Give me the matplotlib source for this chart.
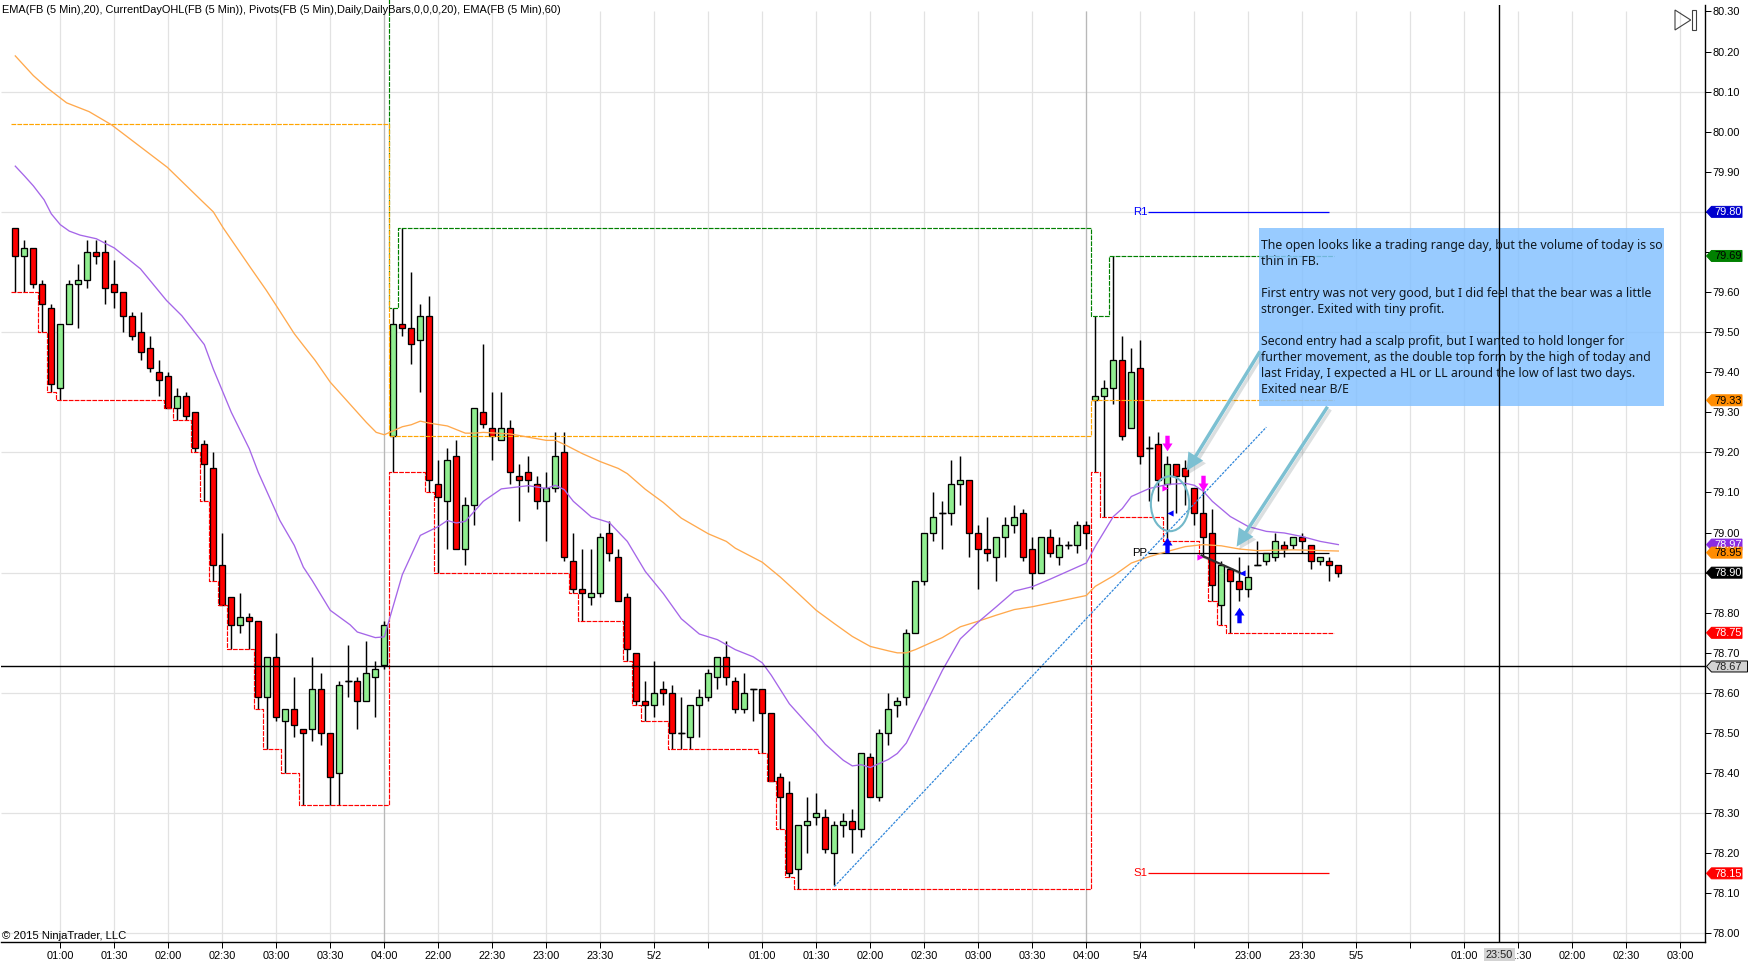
import numpy as np
import matplotlib
matplotlib.use('Agg')
import matplotlib.pyplot as plt
import matplotlib.patheffects as pe
from matplotlib.patches import Ellipse, FancyArrowPatch, Polygon, Rectangle
from matplotlib.transforms import IdentityTransform

W, H = 1752, 969

# FB 5 minute bars (tick size 0.01)
opens = [79.76, 79.69, 79.71, 79.62, 79.56, 79.36, 79.52, 79.62, 79.63, 79.70,
         79.70, 79.62, 79.60, 79.54, 79.50, 79.46, 79.40, 79.39, 79.31, 79.34,
         79.30, 79.22, 79.16, 78.92, 78.84, 78.77, 78.79, 78.78, 78.59, 78.69,
         78.53, 78.56, 78.51, 78.51, 78.61, 78.50, 78.40, 78.63, 78.63, 78.58,
         78.64, 78.67, 79.24, 79.52, 79.51, 79.48, 79.54, 79.12, 79.08, 79.19,
         78.96, 79.07, 79.30, 79.26, 79.23, 79.26, 79.14, 79.15, 79.12, 79.08,
         79.11, 79.20, 78.93, 78.86, 78.84, 78.85, 79.00, 78.94, 78.84, 78.70,
         78.58, 78.57, 78.61, 78.60, 78.50, 78.49, 78.57, 78.59, 78.64, 78.69,
         78.63, 78.56, 78.61, 78.61, 78.55, 78.39, 78.35, 78.16, 78.27, 78.29,
         78.29, 78.20, 78.27, 78.28, 78.26, 78.44, 78.34, 78.50, 78.57, 78.59,
         78.75, 78.88, 79.00, 79.05, 79.05, 79.12, 79.13, 79.00, 78.96, 78.94,
         78.99, 79.02, 79.05, 78.96, 78.90, 78.99, 78.94, 78.97, 78.97, 79.02,
         79.33, 79.34, 79.36, 79.43, 79.26, 79.41, 79.21, 79.22, 79.12, 79.17,
         79.16, 79.11, 79.05, 79.00, 78.82, 78.91, 78.88, 78.86, 78.92, 78.93,
         78.94, 78.97, 78.97, 78.99, 78.97, 78.93, 78.93, 78.92]
highs = [79.76, 79.73, 79.71, 79.63, 79.57, 79.52, 79.63, 79.67, 79.73, 79.73,
         79.73, 79.68, 79.60, 79.55, 79.55, 79.49, 79.43, 79.40, 79.36, 79.35,
         79.30, 79.23, 79.20, 79.00, 78.84, 78.85, 78.80, 78.78, 78.69, 78.75,
         78.56, 78.64, 78.51, 78.69, 78.65, 78.50, 78.63, 78.72, 78.64, 78.73,
         78.68, 78.78, 79.56, 79.76, 79.65, 79.57, 79.59, 79.18, 79.21, 79.23,
         79.09, 79.31, 79.47, 79.35, 79.35, 79.28, 79.17, 79.19, 79.14, 79.15,
         79.25, 79.25, 79.00, 78.96, 78.96, 79.00, 79.03, 78.96, 78.85, 78.70,
         78.63, 78.68, 78.63, 78.62, 78.59, 78.57, 78.61, 78.66, 78.69, 78.73,
         78.64, 78.65, 78.61, 78.61, 78.55, 78.40, 78.38, 78.27, 78.34, 78.35,
         78.31, 78.28, 78.30, 78.31, 78.45, 78.45, 78.51, 78.60, 78.59, 78.76,
         78.88, 79.00, 79.10, 79.08, 79.18, 79.19, 79.13, 79.02, 79.04, 78.99,
         79.04, 79.07, 79.06, 78.99, 78.99, 79.01, 78.99, 78.98, 79.03, 79.03,
         79.54, 79.38, 79.69, 79.49, 79.46, 79.48, 79.24, 79.25, 79.19, 79.17,
         79.18, 79.11, 79.11, 79.06, 78.93, 78.91, 78.94, 78.92, 78.98, 78.95,
         79.00, 78.98, 78.99, 79.00, 78.97, 78.94, 78.94, 78.92]
lows = [79.60, 79.60, 79.61, 79.50, 79.35, 79.33, 79.52, 79.51, 79.61, 79.67,
        79.57, 79.56, 79.50, 79.48, 79.43, 79.40, 79.34, 79.31, 79.28, 79.28,
        79.20, 79.08, 78.88, 78.82, 78.71, 78.75, 78.71, 78.56, 78.46, 78.53,
        78.40, 78.49, 78.32, 78.48, 78.47, 78.32, 78.32, 78.59, 78.51, 78.58,
        78.54, 78.66, 79.15, 79.49, 79.42, 79.35, 79.10, 78.90, 78.96, 78.96,
        78.92, 79.02, 79.26, 79.18, 79.23, 79.12, 79.03, 79.10, 79.06, 78.98,
        79.10, 78.93, 78.85, 78.78, 78.82, 78.84, 78.93, 78.83, 78.68, 78.57,
        78.53, 78.54, 78.57, 78.46, 78.46, 78.46, 78.49, 78.58, 78.61, 78.62,
        78.55, 78.55, 78.53, 78.45, 78.38, 78.26, 78.14, 78.11, 78.20, 78.27,
        78.20, 78.12, 78.24, 78.20, 78.24, 78.34, 78.33, 78.47, 78.54, 78.57,
        78.75, 78.87, 78.98, 78.96, 79.02, 79.07, 78.94, 78.86, 78.93, 78.88,
        78.94, 79.00, 78.93, 78.86, 78.90, 78.94, 78.92, 78.96, 78.95, 78.96,
        79.15, 79.04, 79.32, 79.23, 79.26, 79.17, 79.08, 79.08, 78.98, 79.05,
        79.07, 79.02, 78.94, 78.83, 78.77, 78.75, 78.83, 78.84, 78.92, 78.92,
        78.93, 78.94, 78.96, 78.95, 78.91, 78.92, 78.88, 78.89]
closes = [79.69, 79.71, 79.62, 79.57, 79.37, 79.52, 79.62, 79.63, 79.70, 79.69,
          79.61, 79.60, 79.54, 79.49, 79.45, 79.41, 79.38, 79.31, 79.34, 79.29,
          79.21, 79.17, 78.92, 78.82, 78.77, 78.79, 78.78, 78.59, 78.69, 78.54,
          78.56, 78.52, 78.50, 78.61, 78.50, 78.39, 78.62, 78.63, 78.58, 78.65,
          78.66, 78.77, 79.52, 79.51, 79.47, 79.54, 79.13, 79.09, 79.18, 78.96,
          79.07, 79.31, 79.27, 79.24, 79.26, 79.15, 79.13, 79.13, 79.08, 79.11,
          79.19, 78.94, 78.86, 78.85, 78.85, 78.99, 78.95, 78.83, 78.71, 78.58,
          78.57, 78.60, 78.60, 78.50, 78.50, 78.57, 78.59, 78.65, 78.69, 78.64,
          78.56, 78.60, 78.61, 78.55, 78.38, 78.34, 78.15, 78.27, 78.28, 78.30,
          78.21, 78.27, 78.28, 78.26, 78.45, 78.34, 78.50, 78.56, 78.58, 78.75,
          78.88, 79.00, 79.04, 79.05, 79.12, 79.13, 79.00, 78.96, 78.95, 78.99,
          79.02, 79.04, 78.94, 78.90, 78.99, 78.95, 78.97, 78.97, 79.02, 79.00,
          79.34, 79.36, 79.43, 79.24, 79.40, 79.19, 79.21, 79.13, 79.17, 79.14,
          79.14, 79.05, 78.99, 78.87, 78.92, 78.88, 78.86, 78.89, 78.92, 78.95,
          78.98, 78.96, 78.99, 78.98, 78.93, 78.94, 78.92, 78.90]

# bar at which each session starts, with its open and the high already made
session_starts = [0, 42, 120]
session_opens = [80.02, 79.24, 79.33]
session_prior_highs = [80.45, 0.0, 0.0]

ema20_x = [0, 1, 2, 3.2, 4, 5, 6, 7.2, 9, 11, 13.9, 16.8, 18.5, 21, 22, 24, 26, 27,
           29.4, 31, 32, 33, 35, 37.2, 38, 40, 41, 43, 45, 47, 48, 49, 50, 52, 54,
           57, 59, 60, 61, 62, 64, 66, 68, 70, 72, 74, 76, 78, 80, 82, 83, 84, 86,
           88, 89, 90, 92, 93, 94, 95, 97, 98, 99, 101, 103, 105, 107, 109, 111,
           113, 115, 119, 120, 122, 123, 124, 126, 128, 130, 131, 132, 133, 135,
           137, 139, 141, 143, 145, 147]
ema20_y = [79.914, 79.89, 79.865, 79.83, 79.795, 79.768, 79.752, 79.742, 79.733,
           79.71, 79.658, 79.579, 79.541, 79.469, 79.408, 79.30, 79.209, 79.15,
           79.03, 78.968, 78.914, 78.88, 78.806, 78.77, 78.752, 78.738, 78.74,
           78.895, 78.993, 79.015, 79.03, 79.024, 79.028, 79.078, 79.109, 79.117,
           79.11, 79.118, 79.107, 79.078, 79.039, 79.025, 78.978, 78.903, 78.848,
           78.785, 78.747, 78.733, 78.708, 78.69, 78.675, 78.644, 78.573, 78.523,
           78.499, 78.472, 78.432, 78.418, 78.421, 78.414, 78.434, 78.449, 78.475,
           78.565, 78.656, 78.735, 78.777, 78.815, 78.854, 78.865, 78.884, 78.924,
           78.966, 79.04, 79.06, 79.09, 79.11, 79.12, 79.123, 79.118, 79.103,
           79.078, 79.04, 79.015, 79.003, 78.999, 78.99, 78.978, 78.97]

ema60_x = [0, 2, 3.5, 5.7, 8.2, 10.7, 16.9, 20.7, 22, 23.1, 26.1, 27.9, 29, 31, 32,
           33.3, 35, 37, 39, 40.1, 41, 42, 43, 44, 45, 46, 48, 50, 51, 52, 55, 57,
           59, 60, 61, 63, 65, 67, 68, 70, 72, 74, 77, 79, 80, 83, 85, 87, 89, 91,
           93, 95, 97, 98, 99, 100, 103, 105, 107, 109, 111, 113, 119, 120, 122,
           124, 126, 128, 130, 132, 134, 136, 138, 142, 147]
ema60_y = [80.189, 80.14, 80.11, 80.072, 80.05, 80.017, 79.911, 79.828, 79.80, 79.76,
           79.662, 79.604, 79.566, 79.496, 79.467, 79.43, 79.375, 79.325, 79.275,
           79.25, 79.244, 79.254, 79.264, 79.269, 79.278, 79.273, 79.266, 79.248,
           79.248, 79.25, 79.246, 79.238, 79.23, 79.23, 79.22, 79.197, 79.177, 79.16,
           79.147, 79.108, 79.075, 79.036, 78.997, 78.978, 78.961, 78.926, 78.889,
           78.848, 78.806, 78.773, 78.741, 78.716, 78.705, 78.70, 78.70, 78.708,
           78.738, 78.765, 78.779, 78.794, 78.808, 78.815, 78.843, 78.866, 78.892,
           78.924, 78.94, 78.953, 78.965, 78.97, 78.967, 78.959, 78.955, 78.957,
           78.954]

pivot_names = ['R1', 'PP', 'S1']
pivot_prices = [79.80, 78.95, 78.15]
pivot_colors = ['blue', 'black', 'red']
pivot_span = (125.85, 146.0)

trend_x = [91, 139]
trend_y = [78.117, 79.263]
trade_x = [131.8, 136.1]
trade_y = [78.943, 78.90]

down_arrow_x = [128, 132]
down_arrow_y = [79.223, 79.123]
up_arrow_x = [128, 136]
up_arrow_y = [78.97, 78.795]
right_mark_x = [127.7, 131.6]
right_mark_y = [79.11, 78.94]
left_mark_x = [128.3, 136.3]
left_mark_y = [79.05, 78.90]

cursor_bar = 164.9
cursor_price = 78.666
cursor_time = '23:50'

time_ticks = list(range(5, 186, 6))
time_labels = ['01:00', '01:30', '02:00', '02:30', '03:00', '03:30', '04:00', '22:00',
               '22:30', '23:00', '23:30', '5/2', '', '01:00', '01:30', '02:00', '02:30',
               '03:00', '03:30', '04:00', '5/4', '', '23:00', '23:30', '5/5', '', '01:00',
               '01:30', '02:00', '02:30', '03:00']
session_breaks = [41, 119]

price_ticks = np.round(np.arange(78.0, 80.31, 0.1), 2)
hidden_price_labels = [79.70]  # the 79.69 flag takes its place
grid_prices = [78.0, 78.3, 78.6, 78.9, 79.2, 79.5, 79.8, 80.1]

flag_prices = [79.80, 79.69, 79.33, 78.97, 78.95, 78.90, 78.75, 78.15]
flag_colors = ['mediumblue', 'green', 'darkorange', 'blueviolet', 'darkorange', 'black', 'red', 'red']
flag_text_colors = ['white', 'black', 'black', 'white', 'black', 'white', 'white', 'white']

header = ('EMA(FB (5 Min),20), CurrentDayOHL(FB (5 Min)), '
          'Pivots(FB (5 Min),Daily,DailyBars,0,0,0,20), EMA(FB (5 Min),60)')
note_lines = ['The open looks like a trading range day, but the volume of today is so',
              'thin in FB.',
              '',
              'First entry was not very good, but I did feel that the bear was a little',
              'stronger. Exited with tiny profit.',
              '',
              'Second entry had a scalp profit, but I wanted to hold longer for',
              'further movement, as the double top form by the high of today and',
              'last Friday, I expected a HL or LL around the low of last two days.',
              'Exited near B/E']

PX = 0.72  # one pixel in points at dpi 100
plt.rcParams['font.family'] = ['Liberation Sans', 'DejaVu Sans']
AXIS_FONT = 7.95

fig = plt.figure(figsize=(W / 100, H / 100), dpi=100)
ax = fig.add_axes([1 / W, (H - 942.3) / H, 1704 / W, 937.3 / H])
screen = IdentityTransform()


def bar_lines(values):
    # one flat piece per bar, so the level changes halfway between two bars
    last = len(values) - 1
    xs = np.append(np.arange(last) - 0.5, last - 0.5)
    return xs, np.array(values[:last] + [values[last - 1]])


def draw_session_lines():
    low_line, high_line, open_line = [], [], []
    ends = session_starts[1:] + [len(lows)]
    for start, end, first, prior in zip(session_starts, ends, session_opens, session_prior_highs):
        low_line += list(np.minimum.accumulate(lows[start:end]))
        high_line += list(np.maximum.accumulate([max(h, prior) for h in highs[start:end]]))
        open_line += [first] * (end - start)
    for values, color in ((low_line, 'red'), (high_line, 'green'), (open_line, 'orange')):
        xs, ys = bar_lines(values)
        ax.step(xs, ys, where='post', color=color, lw=0.85, ls=(0, (4, 1)), zorder=3,
                clip_on=(color != 'green'))


def draw_candles():
    bars = np.arange(len(opens))
    o, h, l, c = map(np.array, (opens, highs, lows, closes))
    ax.vlines(bars, l, h, color='black', lw=1.05, zorder=2)
    up = c >= o
    ax.bar(bars, np.abs(c - o), bottom=np.minimum(o, c), width=0.66,
           color=np.where(up, 'lightgreen', 'red'), edgecolor='black', lw=0.95, zorder=2.1)
    flat = o == c
    ax.hlines(o[flat], bars[flat] - 0.36, bars[flat] + 0.36, color='black', lw=1.05, zorder=2.1)


def draw_arrow(start, tip):
    arrow = FancyArrowPatch(start, tip, arrowstyle='simple,tail_width=0.2,head_width=1,head_length=1',
                            mutation_scale=12.5, shrinkA=0, shrinkB=0, lw=0, color='#7CC0D2', zorder=5)
    arrow.set_path_effects([pe.SimplePatchShadow(offset=(2, -2), alpha=0.16), pe.Normal()])
    ax.add_patch(arrow)


def draw_flag(price, face, text_color, right=1742, edge=None):
    y = ax.transData.transform((0, price))[1]
    pts = [(1706.5, y), (1711.5, y + 5.5), (right, y + 5.5), (right, y - 5.5), (1711.5, y - 5.5)]
    ax.add_patch(Polygon(pts, closed=True, facecolor=face, edgecolor=edge or face, lw=0.7,
                         transform=screen, clip_on=False, zorder=10))
    ax.text(1714, y - 0.5, f'{price:.2f}', color=text_color, fontsize=AXIS_FONT, va='center',
            transform=screen, clip_on=False, zorder=11)


# axes mapped so a bar is 9 px and 0.01 is 4 px
ax.set_xlim(-1.589, 187.74)
ax.set_ylim(77.978, 80.316)

ax.hlines(grid_prices, -1.589, 187.74, color='#E2E2E2', lw=0.9, zorder=1)
ax.vlines(time_ticks, 77.978, 80.30, color='#E2E2E2', lw=0.9, zorder=1)
ax.vlines(session_breaks, 77.978, 80.30, color='#B8B8B8', lw=0.9, zorder=1.1)

draw_candles()
draw_session_lines()
ax.plot(ema60_x, ema60_y, color='#FFA94D', lw=0.95, zorder=3.2)
ax.plot(ema20_x, ema20_y, color='#A566E8', lw=0.95, zorder=3.3)

ax.hlines(pivot_prices, *pivot_span, colors=pivot_colors, lw=0.9, zorder=3.1)
for name, price, color in zip(pivot_names, pivot_prices, pivot_colors):
    ax.text(pivot_span[0] - 0.05, price, name, color=color, fontsize=8.2, ha='right', va='center', zorder=6)

ax.plot(trend_x, trend_y, color='#2F86DA', lw=0.9, ls=(0, (2, 1)), zorder=3.4)
ax.plot(trade_x, trade_y, color='#303030', lw=1.5, zorder=4,
        path_effects=[pe.SimpleLineShadow(offset=(1, -1), alpha=0.3), pe.Normal()])

down_shape = [(-0.28, 1), (0.28, 1), (0.28, 0), (0.65, 0), (0, -1), (-0.65, 0), (-0.28, 0)]
up_shape = [(x, -y) for x, y in down_shape]
ax.scatter(down_arrow_x, down_arrow_y, marker=down_shape, s=125, color='#FF00FF', lw=0, zorder=6)
ax.scatter(up_arrow_x, up_arrow_y, marker=up_shape, s=125, color='#0000FF', lw=0, zorder=6)
ax.scatter(right_mark_x, right_mark_y, marker='>', s=20, color='#FF00FF', lw=0, zorder=6)
ax.scatter(left_mark_x, left_mark_y, marker='<', s=20, color='#0000FF', lw=0, zorder=6)

ax.add_patch(Ellipse((128.3, 79.072), 4.26, 0.137, fill=False, edgecolor='#72B8C9', lw=1.5, zorder=5))
draw_arrow((138.3, 79.452), (130.15, 79.154))
draw_arrow((145.8, 79.314), (135.7, 78.965))

# note box, the grid and the levels show through it
ax.add_patch(Rectangle((138.2, 79.316), 45.0, 0.444, facecolor=(0.525, 0.76, 1.0), alpha=0.85, lw=0, zorder=4.5))
for i, line in enumerate(note_lines):
    ax.text(1261, H - (245.5 + 16 * i), line, color='#101820', fontsize=8.83, family=['Noto Sans', 'DejaVu Sans'],
            va='center', transform=screen, zorder=7)

ax.axvline(cursor_bar, color='black', lw=1.0, zorder=6.5)
ax.axhline(cursor_price, color='black', lw=1.0, zorder=6.5)

# axes and ticks
for side in ('left', 'top'):
    ax.spines[side].set_visible(False)
for side in ('right', 'bottom'):
    ax.spines[side].set_linewidth(1.0)
ax.yaxis.tick_right()
ax.set_yticks(price_ticks)
ax.set_yticklabels(['' if p in hidden_price_labels else f'{p:.2f}' for p in price_ticks], fontsize=AXIS_FONT)
ax.set_xticks(time_ticks)
ax.set_xticklabels(time_labels, fontsize=AXIS_FONT)
ax.tick_params(axis='y', length=4, width=PX, pad=1.5)
ax.tick_params(axis='x', length=4.3, width=PX, pad=2)

ax.text(2, H - 10, header, fontsize=AXIS_FONT, va='center', transform=screen, clip_on=False, zorder=8)
ax.text(2, H - 936, '\u00a9 2015 NinjaTrader, LLC', fontsize=8.1, va='center', transform=screen,
        clip_on=False, zorder=8)

# "go to last bar" button in the corner
ax.add_patch(Polygon([(1675, H - 10), (1690.7, H - 20), (1675, H - 30)], closed=True, fill=False,
                     edgecolor='#404040', lw=0.8, transform=screen, clip_on=False, zorder=8))
ax.add_patch(Rectangle((1692.3, H - 30), 3.4, 20, fill=False, edgecolor='#404040', lw=0.8,
                       transform=screen, clip_on=False, zorder=8))

for price, face, text_color in zip(flag_prices, flag_colors, flag_text_colors):
    draw_flag(price, face, text_color)
draw_flag(cursor_price, '#D3D3D3', '#202020', right=1747.5, edge='black')

ax.add_patch(Rectangle((1484, H - 961), 31, 13, facecolor='#D3D3D3', lw=0, transform=screen,
                       clip_on=False, zorder=10))
ax.text(1499.5, H - 955, cursor_time, fontsize=AXIS_FONT, color='#202020', ha='center', va='center',
        transform=screen, clip_on=False, zorder=11)

fig.savefig('out.png', dpi=100)
plt.close(fig)
